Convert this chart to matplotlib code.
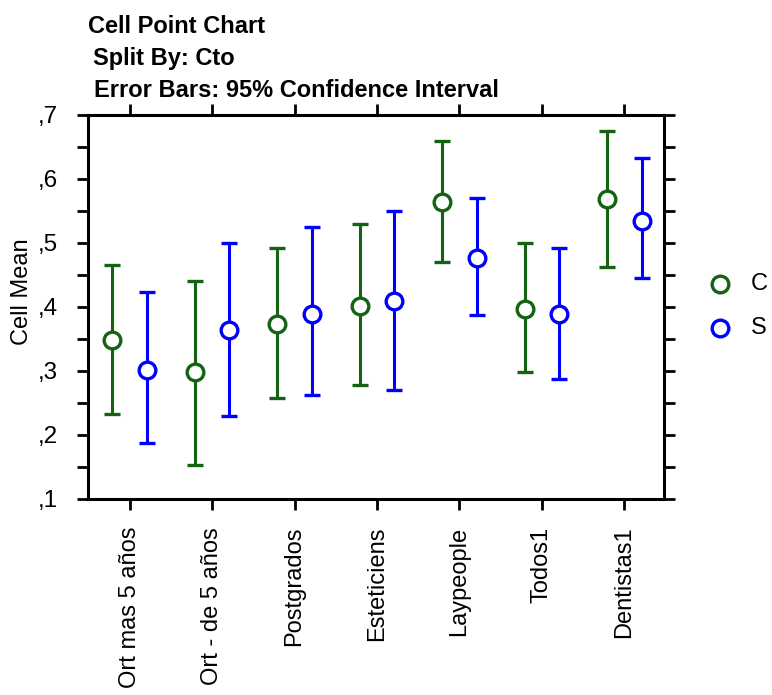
import matplotlib
matplotlib.use("Agg")
import matplotlib.pyplot as plt
import numpy as np

plt.rcParams['font.family'] = ['Liberation Sans', 'DejaVu Sans']

categories = ["Ort mas 5 años", "Ort - de 5 años", "Postgrados", "Esteticiens",
              "Laypeople", "Todos1", "Dentistas1"]
series_names = ["C", "S"]
c_mean = [0.348, 0.298, 0.373, 0.402, 0.564, 0.397, 0.569]
c_upper = [0.466, 0.441, 0.492, 0.529, 0.659, 0.500, 0.675]
c_lower = [0.233, 0.153, 0.258, 0.278, 0.470, 0.299, 0.462]
s_mean = [0.302, 0.364, 0.389, 0.410, 0.477, 0.389, 0.535]
s_upper = [0.424, 0.500, 0.525, 0.550, 0.571, 0.492, 0.633]
s_lower = [0.187, 0.229, 0.262, 0.270, 0.387, 0.287, 0.446]
yticks = [0.1, 0.2, 0.3, 0.4, 0.5, 0.6, 0.7]
ytick_labels = [",1", ",2", ",3", ",4", ",5", ",6", ",7"]

green = "#136313"
blue = "#0000ff"

W, H = 772, 695
fig = plt.figure(figsize=(W / 100, H / 100), dpi=100)
ax = fig.add_axes([87.5 / W, (H - 499) / H, (664 - 87.5) / W, (499 - 115) / H])

x = np.arange(len(categories))
off = 0.21
ms, mew = 12, 2.4
for means, ups, lows, col, dx in [(c_mean, c_upper, c_lower, green, -off),
                                  (s_mean, s_upper, s_lower, blue, off)]:
    m = np.array(means)
    err = np.vstack([m - np.array(lows), np.array(ups) - m])
    ax.errorbar(x + dx, m, yerr=err, fmt='o', color=col, ecolor=col,
                elinewidth=2.2, capsize=6, capthick=2.2,
                markersize=ms, markerfacecolor='white', markeredgecolor=col,
                markeredgewidth=mew, zorder=3)

ax.set_xlim(-0.51, 6.48)
ax.set_ylim(0.1, 0.7)
ax.set_yticks(yticks)
ax.set_yticklabels(ytick_labels)
ax.set_yticks(np.arange(0.15, 0.7, 0.1), minor=True)
ax.set_xticks(x)
ax.set_xticklabels(categories, rotation=90, va='top', ha='center')
ax.tick_params(axis='both', which='both', direction='out', length=8, width=2,
               top=True, right=True, labelsize=17, colors='black')
ax.tick_params(axis='x', pad=12)
ax.tick_params(axis='y', pad=13, labelsize=17.5)
for sp in ax.spines.values():
    sp.set_linewidth(2.2)

fig.text(22 / W, 1 - 292 / H, "Cell Mean", fontsize=17, rotation=90,
         ha='center', va='center')

# titles
fig.text(88 / W, 1 - 33 / H, "Cell Point Chart", fontsize=17, fontweight='bold', va='baseline')
fig.text(93 / W, 1 - 65 / H, "Split By: Cto", fontsize=17, fontweight='bold', va='baseline')
fig.text(94 / W, 1 - 97 / H, "Error Bars: 95% Confidence Interval", fontsize=17,
         fontweight='bold', va='baseline')

# legend
for name, col, yy in [(series_names[0], green, 284), (series_names[1], blue, 328)]:
    fig.lines.append(matplotlib.lines.Line2D([720 / W], [1 - yy / H], marker='o',
                     markersize=ms, markerfacecolor='white', markeredgecolor=col,
                     markeredgewidth=mew, transform=fig.transFigure, linestyle='none'))
    fig.text(751 / W, 1 - yy / H, name, fontsize=17, va='center', ha='left')

fig.savefig("out.png", dpi=100)
